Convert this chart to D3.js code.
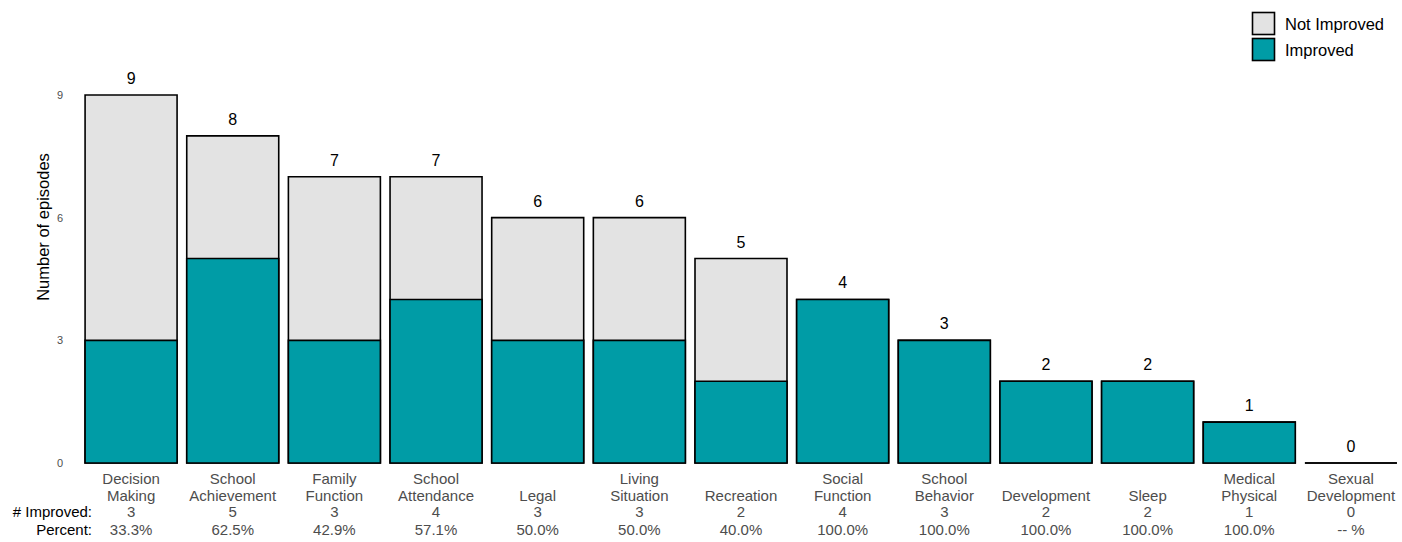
<!DOCTYPE html>
<html><head><meta charset="utf-8">
<script src="https://cdn.jsdelivr.net/npm/d3@7"></script>
<style>body{margin:0;background:#fff;font-family:Arial,"Liberation Sans",sans-serif;}</style>
</head><body>
<svg id="c" width="1402" height="542"></svg>
<script>
const categories = [["Decision","Making"],["School","Achievement"],["Family","Function"],["School","Attendance"],["","Legal"],["Living","Situation"],["","Recreation"],["Social","Function"],["School","Behavior"],["","Development"],["","Sleep"],["Medical","Physical"],["Sexual","Development"]];
const totals = [9,8,7,7,6,6,5,4,3,2,2,1,0];
const improved = [3,5,3,4,3,3,2,4,3,2,2,1,0];
const percentLabels = ["33.3%","62.5%","42.9%","57.1%","50.0%","50.0%","40.0%","100.0%","100.0%","100.0%","100.0%","100.0%","-- %"];
const yTicks = [0,3,6,9];
const legendItems = [["Not Improved","#e3e3e3"],["Improved","#009ca6"]];

const svg = d3.select("#c");
const x = d3.scaleBand().domain(d3.range(categories.length)).range([80, 1402]).paddingInner(0.095).paddingOuter(0.05);
const y = d3.scaleLinear().domain([0,9]).range([463,95]);
const font = "Arial, 'Liberation Sans', sans-serif";

svg.append("g").selectAll("text").data(yTicks).join("text")
  .attr("x",60).attr("y",d=>y(d)+4).attr("text-anchor","middle")
  .attr("font-size",11).attr("fill","#4d4d4d").attr("font-family",font).text(d=>d);
svg.append("text").attr("transform","translate(49,227) rotate(-90)").attr("text-anchor","middle")
  .attr("font-size",16.5).attr("font-family",font).attr("fill","#000").text("Number of episodes");

const barPath = (i,v) => {
  const x0 = x(i), x1 = x(i)+x.bandwidth(), y0 = y(0), y1 = y(v);
  return `M${x0},${y0}L${x0},${y1}L${x1},${y1}L${x1},${y0}Z`;
};
const g = svg.append("g");
g.selectAll("path.tot").data(totals).join("path").attr("class","tot")
  .attr("d",(d,i)=>barPath(i,d))
  .attr("fill","#e3e3e3").attr("stroke","#000").attr("stroke-width",1.6);
g.selectAll("path.imp").data(improved).join("path").attr("class","imp")
  .attr("d",(d,i)=>barPath(i,d))
  .attr("fill","#009ca6").attr("stroke","#000").attr("stroke-width",1.6);

g.selectAll("text.val").data(totals).join("text").attr("class","val")
  .attr("x",(d,i)=>x(i)+x.bandwidth()/2).attr("y",d=>y(d)-11)
  .attr("text-anchor","middle").attr("font-size",16).attr("font-family",font).attr("fill","#000").text(d=>d);

const fs = 15;
const lab = svg.append("g").attr("font-family",font).attr("font-size",fs).attr("fill","#4d4d4d").attr("text-anchor","middle");
categories.forEach((c,i)=>{
  const cx = x(i)+x.bandwidth()/2;
  lab.append("text").attr("x",cx).attr("y",483.5).text(c[0]);
  lab.append("text").attr("x",cx).attr("y",500.5).text(c[1]);
  lab.append("text").attr("x",cx).attr("y",517).text(improved[i]);
  lab.append("text").attr("x",cx).attr("y",534.5).text(percentLabels[i]);
});
svg.append("text").attr("x",92).attr("y",517).attr("text-anchor","end").attr("font-size",fs).attr("font-family",font).text("# Improved:");
svg.append("text").attr("x",92).attr("y",534.5).attr("text-anchor","end").attr("font-size",fs).attr("font-family",font).text("Percent:");

const lg = svg.append("g");
legendItems.forEach((d,i)=>{
  lg.append("rect").attr("x",1252.5).attr("y",12.5+i*26).attr("width",22).attr("height",22)
    .attr("fill",d[1]).attr("stroke","#000").attr("stroke-width",1.6);
  lg.append("text").attr("x",1285).attr("y",29.5+i*26).attr("font-size",16.5).attr("font-family",font).text(d[0]);
});
</script>
</body></html>
